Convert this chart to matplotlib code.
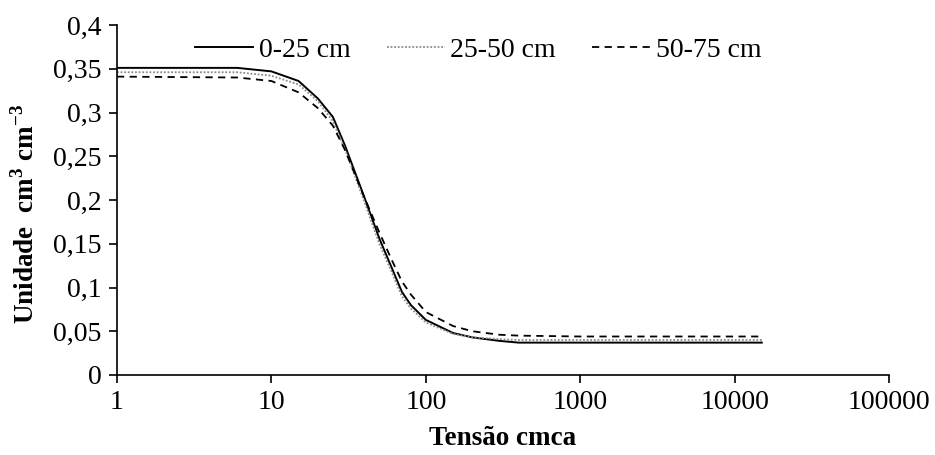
import matplotlib
matplotlib.use("Agg")
import matplotlib.pyplot as plt
from matplotlib.ticker import FixedLocator, FixedFormatter, NullLocator

plt.rcParams['font.family'] = ['Liberation Serif', 'DejaVu Serif']
plt.rcParams['mathtext.fontset'] = 'custom'
plt.rcParams['mathtext.rm'] = 'Liberation Serif'
plt.rcParams['mathtext.bf'] = 'Liberation Serif:bold'

# Tension (cmca)
tension = [1, 6, 10, 15, 20, 25, 30, 40, 50, 60, 70, 80, 100, 150, 200, 300, 400, 1000, 15000]

# Moisture (cm3 cm-3)
layer_0_25 = [0.351, 0.351, 0.347, 0.336, 0.316, 0.295, 0.262, 0.203, 0.156, 0.123, 0.095,
              0.080, 0.063, 0.048, 0.043, 0.039, 0.037, 0.037, 0.037]
layer_25_50 = [0.346, 0.346, 0.342, 0.332, 0.313, 0.290, 0.258, 0.198, 0.150, 0.118, 0.090,
               0.076, 0.060, 0.047, 0.043, 0.041, 0.040, 0.040, 0.040]
layer_50_75 = [0.341, 0.340, 0.336, 0.323, 0.305, 0.285, 0.257, 0.203, 0.163, 0.132, 0.107,
               0.092, 0.072, 0.056, 0.050, 0.046, 0.045, 0.044, 0.044]

series_labels = ['0-25 cm', '25-50 cm', '50-75 cm']

x_ticks = [1, 10, 100, 1000, 10000, 100000]
x_tick_labels = ['1', '10', '100', '1000', '10000', '100000']
y_ticks = [0, 0.05, 0.1, 0.15, 0.2, 0.25, 0.3, 0.35, 0.4]
y_tick_labels = ['0', '0,05', '0,1', '0,15', '0,2', '0,25', '0,3', '0,35', '0,4']

fig = plt.figure(figsize=(9.35, 4.55), dpi=100)
ax = fig.add_axes([117/935, 80/455, (889-117)/935, 350/455])

ax.plot(tension, layer_0_25, color='black', lw=1.4, ls='-', label=series_labels[0])
ax.plot(tension, layer_25_50, color='#8a8a8a', lw=1.3, ls=(0, (1, 1)), label=series_labels[1])
ax.plot(tension, layer_50_75, color='black', lw=1.3, ls=(0, (4, 3)), label=series_labels[2])

ax.set_xscale('log')
ax.set_xlim(1, 100000)
ax.set_ylim(0, 0.4)
ax.xaxis.set_major_locator(FixedLocator(x_ticks))
ax.xaxis.set_major_formatter(FixedFormatter(x_tick_labels))
ax.xaxis.set_minor_locator(NullLocator())
ax.yaxis.set_major_locator(FixedLocator(y_ticks))
ax.yaxis.set_major_formatter(FixedFormatter(y_tick_labels))

for s in ['top', 'right']:
    ax.spines[s].set_visible(False)
for s in ['left', 'bottom']:
    ax.spines[s].set_linewidth(1.2)
    ax.spines[s].set_color('black')

ax.tick_params(axis='both', direction='out', length=6, width=1.2, labelsize=20, colors='black')
ax.tick_params(axis='x', pad=5)
ax.tick_params(axis='y', pad=5)

ax.set_xlabel('Tensão cmca', fontsize=19.5, fontweight='bold', labelpad=8)
ax.set_ylabel(r'Unidade  cm$^{\mathbf{3}}$ cm$^{\mathbf{-3}}$', fontsize=19.5, fontweight='bold')
ax.yaxis.set_label_coords(-0.1, 0.46)

ax.legend(ncol=3, frameon=False, loc='upper center', bbox_to_anchor=(0.468, 1.035),
          fontsize=20, handlelength=2.1, columnspacing=1.3, handletextpad=0.2)

fig.savefig('out.png', dpi=100)
